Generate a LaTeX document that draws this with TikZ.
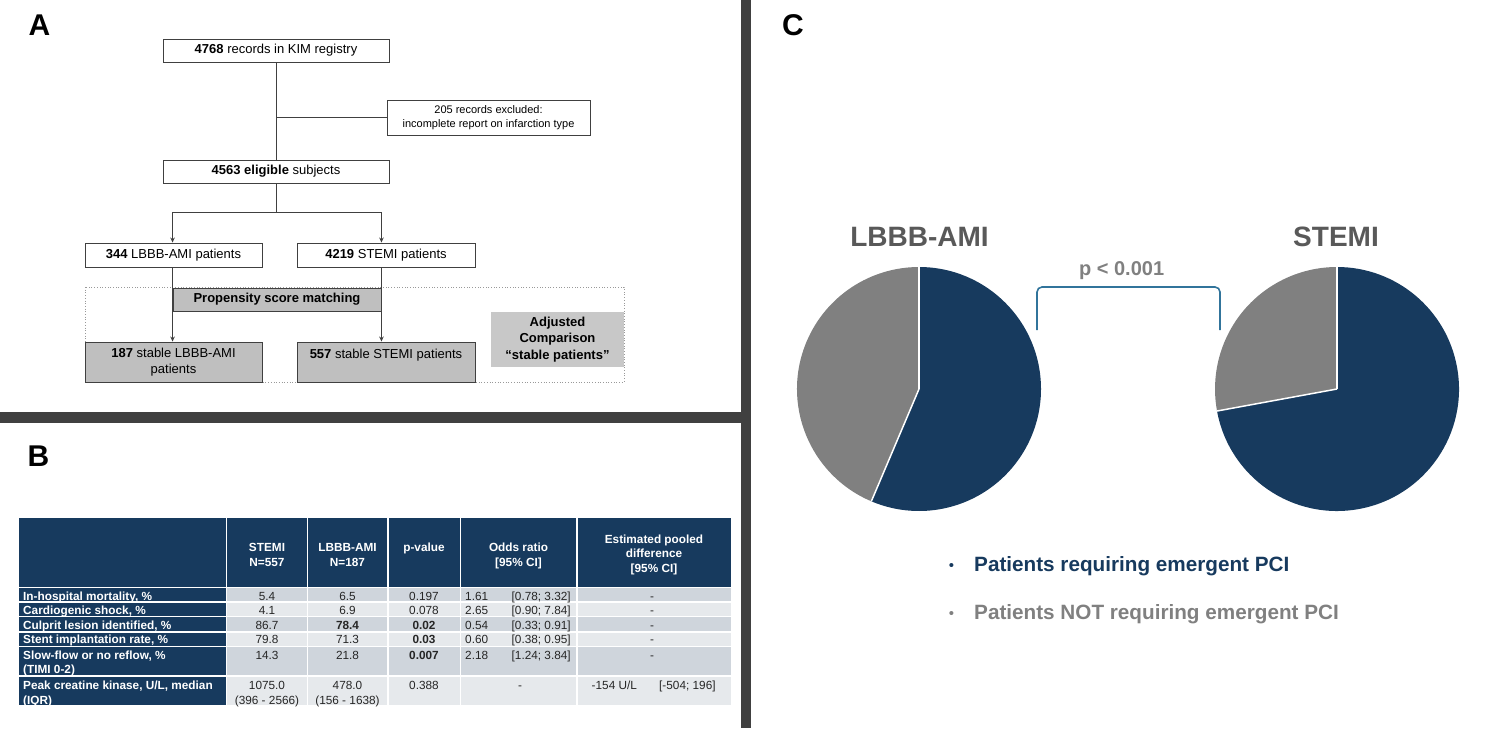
\documentclass[tikz,border=0pt]{standalone}
\usepackage{fontspec}
\setmainfont{Liberation Sans}
\usetikzlibrary{arrows.meta,calc}
\definecolor{navy}{HTML}{173A5E}
\definecolor{pgray}{HTML}{808080}
\definecolor{lgray}{HTML}{595959}
\definecolor{sepc}{HTML}{404040}
\definecolor{boxline}{HTML}{404040}
\definecolor{boxgray}{HTML}{BFBFBF}
\definecolor{adjgray}{HTML}{C8C8C8}
\definecolor{tdark}{HTML}{CFD5DC}
\definecolor{tlight}{HTML}{E6E9EC}
\definecolor{dtext}{HTML}{262626}
\definecolor{brk}{HTML}{31749B}
\begin{document}
\begin{tikzpicture}[x=1pt,y=-1pt,
  box/.style={draw=boxline, line width=0.9pt, fill=white, inner sep=0pt, align=center,
    font=\fontsize{13}{16}\selectfont},
  gbox/.style={box, fill=boxgray},
  ln/.style={draw=boxline, line width=0.9pt},
  arr/.style={ln, -{Stealth[length=5pt,width=4.5pt]}},
  letter/.style={font=\bfseries\fontsize{30}{32}\selectfont, anchor=base, inner sep=0pt},
  hd/.style={text=white, font=\bfseries\fontsize{11.8}{14}\selectfont, anchor=base, inner sep=0pt},
  rl/.style={text=white, font=\bfseries\fontsize{11.8}{14}\selectfont, anchor=base west, inner sep=0pt},
  dt/.style={text=dtext, font=\fontsize{11.8}{14}\selectfont, anchor=base, inner sep=0pt},
  dtl/.style={dt, anchor=base west},
  cell/.style={draw=white, line width=1.2pt},
  bul/.style={font=\fontsize{15}{18}\selectfont, anchor=base, inner sep=0pt},
  leg/.style={font=\bfseries\fontsize{20.7}{24}\selectfont, anchor=base west, inner sep=0pt}
]
\useasboundingbox (0,0) rectangle (1485,730);

% ---------- separators
\fill[sepc] (740.5,0) rectangle (750.5,728);
\fill[sepc] (0,412) rectangle (745,423);

% ---------- letters
\node[letter] (la) at (39.5,36) {A};
\node[letter] (lb) at (38.5,466) {B};
\node[letter] (lc) at (793,36) {C};

% ---------- Panel A
\draw[dotted, draw=black!40, line width=0.7pt] (85,287) rectangle (624,382);
\node[box, minimum width=226pt, minimum height=23pt] (b1) at (276,50.5) {\textbf{4768} records in KIM registry};
\node[box, minimum width=203pt, minimum height=35pt, font=\fontsize{11}{14}\selectfont] (ex) at (488.5,117.5) {205 records excluded:\\incomplete report on infarction type};
\node[box, minimum width=226pt, minimum height=23pt] (b2) at (276,171.5) {\textbf{4563 eligible} subjects};
\node[box, minimum width=177pt, minimum height=24pt] (b3) at (173.5,255) {\textbf{344} LBBB-AMI patients};
\node[box, minimum width=178pt, minimum height=24pt] (b4) at (386,255) {\textbf{4219} STEMI patients};
\node[gbox, minimum width=208pt, minimum height=23pt] (prop) at (277,299.5) {\textbf{Propensity score matching}};
\node[gbox, minimum width=177pt, minimum height=40pt] (b5) at (173.5,362) {\textbf{187} stable LBBB-AMI\\patients};
\node[gbox, minimum width=178pt, minimum height=40pt] (b6) at (386,362) {\textbf{557} stable STEMI patients\\\mbox{}};
\node[fill=adjgray, inner sep=0pt, minimum width=133pt, minimum height=55pt, align=center,
  font=\bfseries\fontsize{13}{16.5}\selectfont] (adj) at (557.5,339.5) {Adjusted\\Comparison\\“stable patients”};

\coordinate (split) at (276,212);
\draw[ln] (b1.south) -- (b2.north);
\draw[ln] (b1.south |- ex.west) -- (ex.west);
\draw[ln] (b2.south) -- (split);
\draw[arr] (split) -| (b3.north -| prop.west);
\draw[arr] (split) -| (b4.north -| prop.east);
\draw[arr] (b3.south -| prop.west) -- (b5.north -| prop.west);
\draw[arr] (b4.south -| prop.east) -- (b6.north -| prop.east);

% ---------- Panel B : table
\foreach \xa/\xb in {18/226.5, 226.5/307.5, 307.5/388, 388/460.5, 460.5/577, 577/732}
  \filldraw[cell, fill=navy] (\xa,517) rectangle (\xb,587.5);
\foreach \ya/\yb/\c in {587.5/602/tdark, 602/616.5/tlight, 616.5/632/tdark, 632/646.5/tlight, 646.5/676/tdark, 676/705.5/tlight}{
  \filldraw[cell, fill=navy] (18,\ya) rectangle (226.5,\yb);
  \foreach \xa/\xb in {226.5/307.5, 307.5/388, 388/460.5, 460.5/577, 577/732}
    \filldraw[cell, fill=\c] (\xa,\ya) rectangle (\xb,\yb);
}
% header
\node[hd] (h1a) at (267,551) {STEMI};
\node[hd] (h1b) at (267,566) {N=557};
\node[hd] (h2a) at (347.5,551) {LBBB-AMI};
\node[hd] (h2b) at (347.5,566) {N=187};
\node[hd] (h3a) at (424,551) {p-value};
\node[hd] (h4a) at (518.5,551) {Odds ratio};
\node[hd] (h4b) at (518.5,566) {[95\% CI]};
\node[hd] (h5a) at (654,543) {Estimated pooled};
\node[hd] (h5b) at (654,557.5) {difference};
\node[hd] (h5c) at (654,572) {[95\% CI]};
% row labels
\node[rl] (r1l) at (23,600) {In-hospital mortality, \%};
\node[rl] (r2l) at (23,614) {Cardiogenic shock, \%};
\node[rl] (r3l) at (23,629.3) {Culprit lesion identified, \%};
\node[rl] (r4l) at (23,643.3) {Stent implantation rate, \%};
\node[rl] (r5l) at (23,659.3) {Slow-flow or no reflow, \%};
\node[rl] (r5m) at (23,673) {(TIMI 0-2)};
\node[rl] (r6l) at (23,689.3) {Peak creatine kinase, U/L, median};
\node[rl] (r6m) at (23,704) {(IQR)};
% data rows 1-5
\foreach \n/\y/\s/\l/\p/\o/\ci in {
  1/600/5.4/6.5/0.197/1.61/{[0.78; 3.32]},
  2/614/4.1/6.9/0.078/2.65/{[0.90; 7.84]},
  3/629.3/86.7/\textbf{78.4}/\textbf{0.02}/0.54/{[0.33; 0.91]},
  4/643.3/79.8/71.3/\textbf{0.03}/0.60/{[0.38; 0.95]},
  5/659.3/14.3/21.8/\textbf{0.007}/2.18/{[1.24; 3.84]}}{
  \node[dt] (s\n) at (267,\y) {\s};
  \node[dt] (l\n) at (347.5,\y) {\l};
  \node[dt] (p\n) at (424,\y) {\p};
  \node[dtl] (o\n) at (465,\y) {\o};
  \node[dtl] (c\n) at (511.5,\y) {\ci};
  \node[dt] (e\n) at (652,\y) {-};
}
% row 6
\node[dt] (s6) at (267,689.3) {1075.0};
\node[dt] (s6b) at (267,704) {(396 - 2566)};
\node[dt] (l6) at (347.5,689.3) {478.0};
\node[dt] (l6b) at (347.5,704) {(156 - 1638)};
\node[dt] (p6) at (424,689.3) {0.388};
\node[dt] (o6) at (520,689.3) {-};
\node[dtl] (e6) at (591.5,689.3) {-154 U/L};
\node[dtl] (c6) at (659,689.3) {[-504; 196]};

% ---------- Panel C
\coordinate (pc1) at (919,389);
\coordinate (pc2) at (1337,389);
\fill[navy] (pc1) -- ++(90:122pt) arc[start angle=90, end angle=-113, radius=122pt] -- cycle;
\fill[pgray] (pc1) -- ++(-113:122pt) arc[start angle=-113, end angle=-270, radius=122pt] -- cycle;
\draw[white, line width=1.5pt] (pc1) -- ++(90:122pt);
\draw[white, line width=1.5pt] (pc1) -- ++(-113:122pt);
\fill[pgray] (pc2) -- ++(90:122pt) arc[start angle=90, end angle=190.4, radius=122pt] -- cycle;
\fill[navy] (pc2) -- ++(190.4:122pt) arc[start angle=190.4, end angle=450, radius=122pt] -- cycle;
\draw[white, line width=1.5pt] (pc2) -- ++(90:122pt);
\draw[white, line width=1.5pt] (pc2) -- ++(190.4:122pt);

\node[font=\bfseries\fontsize{28}{30}\selectfont, text=lgray, anchor=base, inner sep=0pt] (t1) at (919.5,246.7) {LBBB-AMI};
\node[font=\bfseries\fontsize{28}{30}\selectfont, text=lgray, anchor=base, inner sep=0pt] (t2) at (1336,246.7) {STEMI};
\node[font=\bfseries\fontsize{20}{24}\selectfont, text=pgray, anchor=base, inner sep=0pt] (pv) at (1121.6,275) {p < 0.001};
\coordinate (bka) at (1037,330);
\coordinate (bkb) at (1220,330);
\draw[brk, line width=1.6pt, rounded corners=5pt] (bka) -- (bka |- 0,287) -- (bkb |- 0,287) -- (bkb);

\node[bul, text=navy] (bu1) at (951.6,570) {•};
\node[leg, text=navy] (lg1) at (974,571) {Patients requiring emergent PCI};
\node[bul, text=pgray] (bu2) at (951.6,618.3) {•};
\node[leg, text=pgray] (lg2) at (974,619.3) {Patients NOT requiring emergent PCI};
\end{tikzpicture}
\end{document}
